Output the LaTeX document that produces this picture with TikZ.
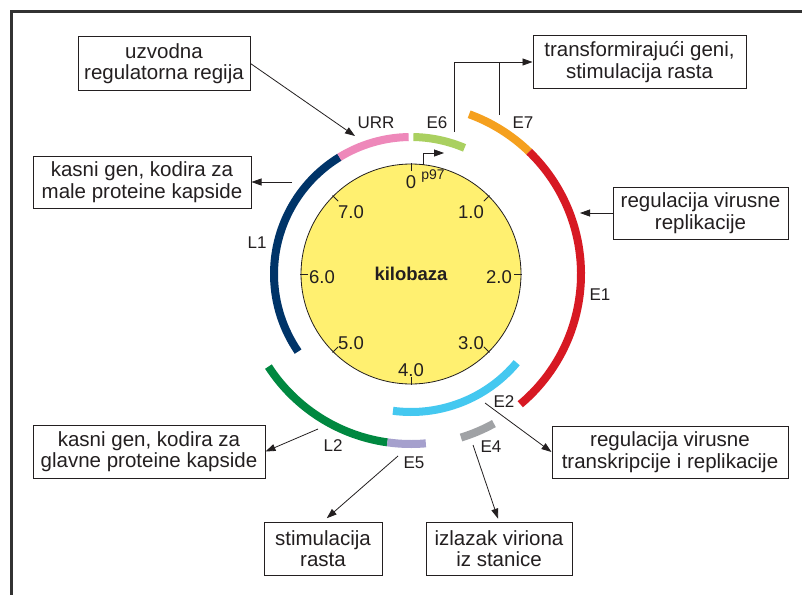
\documentclass[tikz,border=0pt]{standalone}
\usepackage{fontspec}
\setmainfont{Liberation Sans}
\usetikzlibrary{arrows.meta,calc}
\definecolor{navyL}{RGB}{0,52,104}
\definecolor{pinkU}{RGB}{238,136,186}
\definecolor{greenE6}{RGB}{170,208,96}
\definecolor{orangeE7}{RGB}{245,160,30}
\definecolor{redE1}{RGB}{215,25,35}
\definecolor{cyanE2}{RGB}{68,200,240}
\definecolor{grayE4}{RGB}{160,162,165}
\definecolor{greenL2}{RGB}{0,136,64}
\definecolor{purpE5}{RGB}{165,160,205}
\definecolor{yel}{RGB}{255,240,112}
\definecolor{txt}{RGB}{35,31,32}
\definecolor{frameC}{RGB}{50,50,50}
\begin{document}
\begin{tikzpicture}[x=1pt,y=-1pt,
  box/.style={draw=txt, line width=1pt, fill=white, align=center, text=txt,
    font=\fontsize{20.5}{21.5}\selectfont, inner sep=0pt},
  gene/.style={line width=8pt},
  lbl/.style={font=\fontsize{17}{17}\selectfont, text=txt, inner sep=0pt},
  kb/.style={font=\fontsize{18.5}{18.5}\selectfont, text=txt, inner sep=0pt},
  conn/.style={draw=txt, line width=0.8pt, -{Triangle[length=10pt,width=7pt]}},
  plain/.style={draw=txt, line width=0.8pt}]
\useasboundingbox (0,0) rectangle (802,594);
\fill[white] (0,0) rectangle (802,594);
% frame
\draw[frameC, line width=3pt] (11,600) -- (11,12) -- (810,12);

% central circle
\coordinate (c) at (411,274);
\node[circle, minimum size=220pt, inner sep=0pt, fill=yel, draw=txt, line width=0.8pt,
  font=\fontsize{18.5}{18.5}\selectfont\bfseries, text=txt] (kbc) at (c) {kilobaza};
\foreach \k in {0,...,7} {
  \draw[txt, line width=0.8pt] ($(c)+(\k*45-90:103)$) -- ($(c)+(\k*45-90:111)$);
}
\node[kb] (t0) at (411,182) {0};
\node[font=\fontsize{14}{14}\selectfont, text=txt, inner sep=0pt] (tp) at (433,176) {p97};
\node[kb] (t1) at (471,212) {1.0};
\node[kb] (t2) at (499,277) {2.0};
\node[kb] (t3) at (471,343) {3.0};
\node[kb] (t4) at (411,370) {4.0};
\node[kb] (t5) at (351,343) {5.0};
\node[kb] (t6) at (322,277) {6.0};
\node[kb] (t7) at (351,212) {7.0};

% promoter arrow
\coordinate (p0) at ($(c)+(-83.7:110)$);
\coordinate (p1) at (444,153);
\draw[conn] (p0) |- (p1);

% gene arcs
\draw[gene, navyL]   ($(c)+(-121.5:137)$) arc[start angle=-121.5, end angle=-214.5, radius=137];
\draw[gene, pinkU]   ($(c)+(-91:137)$)    arc[start angle=-91,    end angle=-121.5, radius=137];
\draw[gene, greenE6] ($(c)+(-67:137)$)    arc[start angle=-67,    end angle=-89,    radius=137];
\draw[gene, orangeE7]($(c)+(-46:170)$)    arc[start angle=-46,    end angle=-70,    radius=170];
\draw[gene, redE1]   ($(c)+(50:170)$)     arc[start angle=50,     end angle=-46,    radius=170];
\draw[gene, cyanE2]  ($(c)+(97.5:138)$)   arc[start angle=97.5,   end angle=40,     radius=138];
\draw[gene, grayE4]  ($(c)+(73:171)$)     arc[start angle=73,     end angle=61,     radius=171];
\draw[gene, greenL2] ($(c)+(147:170)$)    arc[start angle=147,    end angle=98,     radius=170];
\draw[gene, purpE5]  ($(c)+(98:170)$)     arc[start angle=98,     end angle=85,     radius=170];

% gene labels
\node[lbl] (lURR) at (376,123) {URR};
\node[lbl] (lE6) at (437,123) {E6};
\node[lbl] (lE7) at (523,123) {E7};
\node[lbl] (lE1) at (600,295) {E1};
\node[lbl] (lE2) at (504,402) {E2};
\node[lbl] (lE4) at (491,447) {E4};
\node[lbl] (lE5) at (414,463) {E5};
\node[lbl] (lL2) at (333,446) {L2};
\node[lbl] (lL1) at (257,243) {L1};

% boxes
\node[box, minimum width=172pt, minimum height=53pt] (b1) at (164,63.5) {uzvodna\\regulatorna regija};
\node[box, minimum width=213pt, minimum height=52pt] (b2) at (639.5,62) {transformirajući geni,\\stimulacija rasta};
\node[box, minimum width=218pt, minimum height=52pt] (b3) at (142,182) {kasni gen, kodira za\\male proteine kapside};
\node[box, minimum width=175pt, minimum height=52pt] (b4) at (700.5,213) {regulacija virusne\\replikacije};
\node[box, minimum width=232pt, minimum height=53pt] (b5) at (149,451.5) {kasni gen, kodira za\\glavne proteine kapside};
\node[box, minimum width=236pt, minimum height=52pt] (b6) at (670,452) {regulacija virusne\\transkripcije i replikacije};
\node[box, minimum width=118pt, minimum height=53pt] (b7) at (323,548.5) {stimulacija\\rasta};
\node[box, minimum width=146pt, minimum height=53pt] (b8) at (499,548.5) {izlazak viriona\\iz stanice};

% connectors
\coordinate (urrtip) at (355,136);
\draw[conn] (b1.east) -- (urrtip);
\coordinate (e6top) at (454,132);
\coordinate (e7top) at (499,115);
\draw[conn] (e6top) |- (b2.west);
\draw[plain] (e7top) -- (e7top |- b2.west);
\coordinate (l1pt) at (292,182);
\draw[conn] (l1pt) -- (b3.east);
\coordinate (e1tip) at (580,213);
\draw[conn] (b4.west) -- (e1tip);
\coordinate (l2pt) at (318,429);
\draw[conn] (l2pt) -- (b5.east);
\coordinate (e2pt) at (485,403);
\draw[conn] (e2pt) -- (b6.west);
\coordinate (e5pt) at (398,456);
\draw[conn, shorten >=5pt] (e5pt) -- (b7.north);
\coordinate (e4pt) at (473,445);
\draw[conn, shorten >=3pt] (e4pt) -- (b8.north);
\end{tikzpicture}
\end{document}
